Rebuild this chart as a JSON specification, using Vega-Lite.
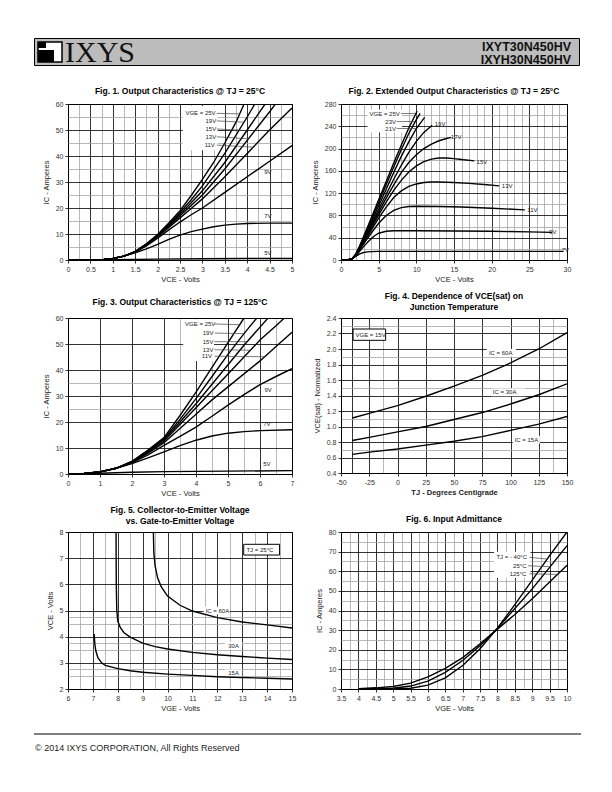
{
"$schema": "https://vega.github.io/schema/vega-lite/v6.json",
"padding": {"left": 33, "top": 37, "right": 0, "bottom": 0},
"autosize": {"type": "pad"},
"background": "white",
"config": {
 "view": {"stroke": "#000", "strokeWidth": 1},
 "axis": {"domain": false, "labelFont": "Liberation Sans", "labelFontSize": 7, "labelColor": "#333", "titleFont": "Liberation Sans", "titleFontSize": 7.5, "titleFontWeight": "normal", "titleColor": "#222", "tickColor": "#333", "labelPadding": 2, "gridWidth": 0.8, "gridOpacity": 1, "labelFlush": false, "labelOverlap": false, "labelBound": false},
 "axisX": {"titlePadding": 3},
 "axisY": {"titlePadding": 5},
 "title": {"font": "Liberation Sans", "fontSize": 8.5, "fontWeight": "bold", "color": "#000", "anchor": "middle"},
 "line": {"color": "#000", "strokeWidth": 1.4},
 "text": {"font": "Liberation Sans", "fontSize": 6, "color": "#222", "align": "left", "baseline": "middle"}
},
"datasets": {
 "f1": [
  {"v":"5V","x":0,"y":0},{"v":"5V","x":1,"y":0.1},{"v":"5V","x":2,"y":0.35},{"v":"5V","x":3,"y":0.5},{"v":"5V","x":4,"y":0.55},{"v":"5V","x":5,"y":0.6},
  {"v":"7V","x":0,"y":0},{"v":"7V","x":0.5,"y":0},{"v":"7V","x":0.8,"y":0.2},{"v":"7V","x":1,"y":0.6},{"v":"7V","x":1.25,"y":1.5},{"v":"7V","x":1.5,"y":2.8},{"v":"7V","x":1.75,"y":4.3},{"v":"7V","x":2,"y":6},{"v":"7V","x":2.25,"y":7.9},{"v":"7V","x":2.5,"y":9.6},{"v":"7V","x":2.75,"y":10.9},{"v":"7V","x":3,"y":11.9},{"v":"7V","x":3.25,"y":12.8},{"v":"7V","x":3.5,"y":13.4},{"v":"7V","x":3.75,"y":13.8},{"v":"7V","x":4,"y":14.05},{"v":"7V","x":4.5,"y":14.2},{"v":"7V","x":5,"y":14.2},
  {"v":"9V","x":0,"y":0},{"v":"9V","x":0.5,"y":0},{"v":"9V","x":0.8,"y":0.2},{"v":"9V","x":1,"y":0.6},{"v":"9V","x":1.25,"y":1.5},{"v":"9V","x":1.5,"y":3},{"v":"9V","x":1.75,"y":5.4},{"v":"9V","x":2,"y":8.4},{"v":"9V","x":2.25,"y":11.6},{"v":"9V","x":2.5,"y":14.6},{"v":"9V","x":2.75,"y":17.4},{"v":"9V","x":3,"y":20},{"v":"9V","x":3.5,"y":26},{"v":"9V","x":4,"y":32},{"v":"9V","x":4.5,"y":38},{"v":"9V","x":5,"y":44},
  {"v":"11V","x":0,"y":0},{"v":"11V","x":0.5,"y":0},{"v":"11V","x":0.8,"y":0.2},{"v":"11V","x":1,"y":0.6},{"v":"11V","x":1.25,"y":1.5},{"v":"11V","x":1.5,"y":3.1},{"v":"11V","x":1.75,"y":5.8},{"v":"11V","x":2,"y":9},{"v":"11V","x":2.25,"y":12.5},{"v":"11V","x":2.5,"y":16.2},{"v":"11V","x":2.75,"y":19.8},{"v":"11V","x":3,"y":23.5},{"v":"11V","x":3.5,"y":32},{"v":"11V","x":4,"y":41},{"v":"11V","x":4.5,"y":50},{"v":"11V","x":5,"y":58.5},
  {"v":"13V","x":0,"y":0},{"v":"13V","x":0.5,"y":0},{"v":"13V","x":0.8,"y":0.2},{"v":"13V","x":1,"y":0.6},{"v":"13V","x":1.25,"y":1.5},{"v":"13V","x":1.5,"y":3.1},{"v":"13V","x":1.75,"y":5.9},{"v":"13V","x":2,"y":9.2},{"v":"13V","x":2.25,"y":13},{"v":"13V","x":2.5,"y":17},{"v":"13V","x":2.75,"y":21},{"v":"13V","x":3,"y":25},{"v":"13V","x":3.5,"y":35},{"v":"13V","x":4,"y":46},{"v":"13V","x":4.5,"y":57},{"v":"13V","x":4.63,"y":60},
  {"v":"15V","x":0,"y":0},{"v":"15V","x":0.5,"y":0},{"v":"15V","x":0.8,"y":0.2},{"v":"15V","x":1,"y":0.6},{"v":"15V","x":1.25,"y":1.5},{"v":"15V","x":1.5,"y":3.2},{"v":"15V","x":1.75,"y":6},{"v":"15V","x":2,"y":9.4},{"v":"15V","x":2.25,"y":13.4},{"v":"15V","x":2.5,"y":17.6},{"v":"15V","x":2.75,"y":22},{"v":"15V","x":3,"y":26.6},{"v":"15V","x":3.5,"y":37.5},{"v":"15V","x":4,"y":50},{"v":"15V","x":4.4,"y":60},
  {"v":"19V","x":0,"y":0},{"v":"19V","x":0.5,"y":0},{"v":"19V","x":0.8,"y":0.2},{"v":"19V","x":1,"y":0.6},{"v":"19V","x":1.25,"y":1.5},{"v":"19V","x":1.5,"y":3.2},{"v":"19V","x":1.75,"y":6.1},{"v":"19V","x":2,"y":9.6},{"v":"19V","x":2.25,"y":13.8},{"v":"19V","x":2.5,"y":18.3},{"v":"19V","x":2.75,"y":23.2},{"v":"19V","x":3,"y":28.5},{"v":"19V","x":3.5,"y":41},{"v":"19V","x":4,"y":55},{"v":"19V","x":4.17,"y":60},
  {"v":"25V","x":0,"y":0},{"v":"25V","x":0.5,"y":0},{"v":"25V","x":0.8,"y":0.2},{"v":"25V","x":1,"y":0.6},{"v":"25V","x":1.25,"y":1.5},{"v":"25V","x":1.5,"y":3.3},{"v":"25V","x":1.75,"y":6.2},{"v":"25V","x":2,"y":9.8},{"v":"25V","x":2.25,"y":14.2},{"v":"25V","x":2.5,"y":19},{"v":"25V","x":2.75,"y":24.8},{"v":"25V","x":3,"y":31},{"v":"25V","x":3.25,"y":37.5},{"v":"25V","x":3.5,"y":45},{"v":"25V","x":3.75,"y":53},{"v":"25V","x":3.93,"y":60}
 ],
 "f1b": [{"x":2.56,"x2":3.34,"y":42.2,"y2":59.2}],
 "f1l": [{"x":3.32,"y":56.4,"x2":3.83,"y2":56.2},{"x":3.32,"y":53.5,"x2":3.93,"y2":53},{"x":3.32,"y":50.4,"x2":3.99,"y2":49.8},{"x":3.32,"y":47.4,"x2":4.03,"y2":46.6},{"x":3.32,"y":44.2,"x2":4.13,"y2":43.4}],
 "f1t": [{"x":2.62,"y":56.4,"t":"VGE = 25V"},{"x":3.07,"y":53.5,"t":"19V"},{"x":3.07,"y":50.4,"t":"15V"},{"x":3.07,"y":47.4,"t":"13V"},{"x":3.05,"y":44.2,"t":"11V"},{"x":4.38,"y":33.7,"t":"9V"},{"x":4.38,"y":16.9,"t":"7V"},{"x":4.38,"y":2.8,"t":"5V"}],
 "f2": [
  {"v":"7V","x":0,"y":0},{"v":"7V","x":1,"y":0.5},{"v":"7V","x":1.5,"y":2.5},{"v":"7V","x":2,"y":7},{"v":"7V","x":2.5,"y":11},{"v":"7V","x":3,"y":13.5},{"v":"7V","x":3.5,"y":14.6},{"v":"7V","x":4,"y":15},{"v":"7V","x":5,"y":15.5},{"v":"7V","x":29.5,"y":15.5},
  {"v":"9V","x":0,"y":0},{"v":"9V","x":1,"y":0.5},{"v":"9V","x":1.5,"y":2.5},{"v":"9V","x":2,"y":8},{"v":"9V","x":2.5,"y":16},{"v":"9V","x":3,"y":24},{"v":"9V","x":3.5,"y":31.5},{"v":"9V","x":4,"y":38},{"v":"9V","x":4.5,"y":44},{"v":"9V","x":5,"y":48},{"v":"9V","x":6,"y":51.5},{"v":"9V","x":7,"y":52.5},{"v":"9V","x":10,"y":52.5},{"v":"9V","x":15,"y":52},{"v":"9V","x":20,"y":51.5},{"v":"9V","x":25,"y":50.5},{"v":"9V","x":28,"y":49.5},
  {"v":"11V","x":0,"y":0},{"v":"11V","x":1,"y":0.5},{"v":"11V","x":1.5,"y":2.5},{"v":"11V","x":2,"y":9},{"v":"11V","x":2.5,"y":19},{"v":"11V","x":3,"y":29},{"v":"11V","x":4,"y":48},{"v":"11V","x":5,"y":66},{"v":"11V","x":6,"y":80},{"v":"11V","x":7,"y":89},{"v":"11V","x":8,"y":94},{"v":"11V","x":9,"y":96},{"v":"11V","x":10,"y":96.5},{"v":"11V","x":13,"y":96},{"v":"11V","x":16,"y":95},{"v":"11V","x":20,"y":93},{"v":"11V","x":24.4,"y":90},
  {"v":"13V","x":0,"y":0},{"v":"13V","x":1,"y":0.5},{"v":"13V","x":1.5,"y":2.5},{"v":"13V","x":2,"y":9.5},{"v":"13V","x":2.5,"y":20},{"v":"13V","x":3,"y":31},{"v":"13V","x":4,"y":53},{"v":"13V","x":5,"y":75},{"v":"13V","x":6,"y":95},{"v":"13V","x":7,"y":112},{"v":"13V","x":8,"y":124},{"v":"13V","x":9,"y":132},{"v":"13V","x":10,"y":136.5},{"v":"13V","x":11,"y":139},{"v":"13V","x":12,"y":140},{"v":"13V","x":13,"y":140},{"v":"13V","x":15,"y":139},{"v":"13V","x":17,"y":137.5},{"v":"13V","x":19,"y":135.5},{"v":"13V","x":21,"y":133},
  {"v":"15V","x":0,"y":0},{"v":"15V","x":1,"y":0.5},{"v":"15V","x":1.5,"y":2.5},{"v":"15V","x":2,"y":10},{"v":"15V","x":2.5,"y":21},{"v":"15V","x":3,"y":33},{"v":"15V","x":4,"y":57},{"v":"15V","x":5,"y":81},{"v":"15V","x":6,"y":104},{"v":"15V","x":7,"y":125},{"v":"15V","x":8,"y":143},{"v":"15V","x":9,"y":158},{"v":"15V","x":10,"y":169},{"v":"15V","x":11,"y":176.5},{"v":"15V","x":12,"y":181},{"v":"15V","x":13,"y":183},{"v":"15V","x":14,"y":183},{"v":"15V","x":15,"y":182},{"v":"15V","x":16,"y":180.5},{"v":"15V","x":17.7,"y":178},
  {"v":"17V","x":0,"y":0},{"v":"17V","x":1,"y":0.5},{"v":"17V","x":1.5,"y":2.5},{"v":"17V","x":2,"y":10},{"v":"17V","x":2.5,"y":22},{"v":"17V","x":3,"y":34},{"v":"17V","x":4,"y":60},{"v":"17V","x":5,"y":86},{"v":"17V","x":6,"y":111},{"v":"17V","x":7,"y":135},{"v":"17V","x":8,"y":157},{"v":"17V","x":9,"y":175},{"v":"17V","x":10,"y":189},{"v":"17V","x":11,"y":200},{"v":"17V","x":12,"y":208},{"v":"17V","x":13,"y":214},{"v":"17V","x":14,"y":218},{"v":"17V","x":14.6,"y":220},
  {"v":"19V","x":0,"y":0},{"v":"19V","x":1,"y":0.5},{"v":"19V","x":1.5,"y":2.5},{"v":"19V","x":2,"y":10.5},{"v":"19V","x":2.5,"y":23},{"v":"19V","x":3,"y":36},{"v":"19V","x":4,"y":63},{"v":"19V","x":5,"y":91},{"v":"19V","x":6,"y":118},{"v":"19V","x":7,"y":145},{"v":"19V","x":8,"y":170},{"v":"19V","x":9,"y":193},{"v":"19V","x":10,"y":213},{"v":"19V","x":11,"y":229},{"v":"19V","x":12.1,"y":242},
  {"v":"21V","x":0,"y":0},{"v":"21V","x":1,"y":0.5},{"v":"21V","x":1.5,"y":2.5},{"v":"21V","x":2,"y":11},{"v":"21V","x":2.5,"y":24},{"v":"21V","x":3,"y":38},{"v":"21V","x":4,"y":67},{"v":"21V","x":5,"y":97},{"v":"21V","x":6,"y":127},{"v":"21V","x":7,"y":157},{"v":"21V","x":8,"y":186},{"v":"21V","x":9,"y":212},{"v":"21V","x":10,"y":236},{"v":"21V","x":11.1,"y":256},
  {"v":"23V","x":0,"y":0},{"v":"23V","x":1,"y":0.5},{"v":"23V","x":1.5,"y":2.5},{"v":"23V","x":2,"y":11},{"v":"23V","x":2.5,"y":25},{"v":"23V","x":3,"y":40},{"v":"23V","x":4,"y":71},{"v":"23V","x":5,"y":103},{"v":"23V","x":6,"y":135},{"v":"23V","x":7,"y":167},{"v":"23V","x":8,"y":198},{"v":"23V","x":9,"y":227},{"v":"23V","x":10,"y":252},{"v":"23V","x":10.5,"y":263},
  {"v":"25V","x":0,"y":0},{"v":"25V","x":1,"y":0.5},{"v":"25V","x":1.5,"y":2.5},{"v":"25V","x":2,"y":11.5},{"v":"25V","x":2.5,"y":26},{"v":"25V","x":3,"y":42},{"v":"25V","x":4,"y":75},{"v":"25V","x":5,"y":108},{"v":"25V","x":6,"y":141},{"v":"25V","x":7,"y":174},{"v":"25V","x":8,"y":206},{"v":"25V","x":9,"y":237},{"v":"25V","x":10.1,"y":267}
 ],
 "f2b": [{"x":3.5,"x2":8.1,"y":229,"y2":270}],
 "f2l": [{"x":8.0,"y":263,"x2":9.95,"y2":263},{"x":7.4,"y":248.5,"x2":9.86,"y2":248.5},{"x":7.4,"y":236,"x2":10.0,"y2":236}],
 "f2t": [{"x":3.79,"y":262.7,"t":"VGE = 25V"},{"x":5.88,"y":248.3,"t":"23V"},{"x":5.88,"y":235.8,"t":"21V"},{"x":12.44,"y":244.2,"t":"19V"},{"x":14.58,"y":220.2,"t":"17V"},{"x":18.0,"y":175.3,"t":"15V"},{"x":21.35,"y":132.9,"t":"13V"},{"x":24.74,"y":89.2,"t":"11V"},{"x":27.64,"y":50.9,"t":"9V"},{"x":29.3,"y":18.6,"t":"7V"}],
 "f3": [
  {"v":"5V","x":0,"y":0},{"v":"5V","x":1,"y":0.3},{"v":"5V","x":2,"y":0.7},{"v":"5V","x":3,"y":0.9},{"v":"5V","x":5,"y":1.1},{"v":"5V","x":7,"y":1.3},
  {"v":"7V","x":0,"y":0},{"v":"7V","x":0.5,"y":0.2},{"v":"7V","x":1,"y":0.8},{"v":"7V","x":1.5,"y":2.2},{"v":"7V","x":2,"y":4},{"v":"7V","x":2.5,"y":6.2},{"v":"7V","x":3,"y":8.5},{"v":"7V","x":3.5,"y":10.9},{"v":"7V","x":4,"y":13},{"v":"7V","x":4.5,"y":14.6},{"v":"7V","x":5,"y":15.7},{"v":"7V","x":5.5,"y":16.3},{"v":"7V","x":6,"y":16.7},{"v":"7V","x":7,"y":17},
  {"v":"9V","x":0,"y":0},{"v":"9V","x":0.5,"y":0.2},{"v":"9V","x":1,"y":0.8},{"v":"9V","x":1.5,"y":2.2},{"v":"9V","x":2,"y":4.3},{"v":"9V","x":2.5,"y":7.4},{"v":"9V","x":3,"y":11},{"v":"9V","x":3.5,"y":14.5},{"v":"9V","x":4,"y":18},{"v":"9V","x":4.5,"y":22.2},{"v":"9V","x":5,"y":26.5},{"v":"9V","x":5.5,"y":30.5},{"v":"9V","x":6,"y":34.4},{"v":"9V","x":6.5,"y":37.5},{"v":"9V","x":7,"y":40.5},
  {"v":"11V","x":0,"y":0},{"v":"11V","x":0.5,"y":0.2},{"v":"11V","x":1,"y":0.8},{"v":"11V","x":1.5,"y":2.2},{"v":"11V","x":2,"y":4.5},{"v":"11V","x":2.5,"y":8},{"v":"11V","x":3,"y":12},{"v":"11V","x":3.5,"y":17.5},{"v":"11V","x":4,"y":23},{"v":"11V","x":4.5,"y":28.5},{"v":"11V","x":5,"y":33.5},{"v":"11V","x":5.5,"y":38.5},{"v":"11V","x":6,"y":43.5},{"v":"11V","x":6.5,"y":49},{"v":"11V","x":7,"y":54.5},
  {"v":"13V","x":0,"y":0},{"v":"13V","x":0.5,"y":0.2},{"v":"13V","x":1,"y":0.8},{"v":"13V","x":1.5,"y":2.2},{"v":"13V","x":2,"y":4.6},{"v":"13V","x":2.5,"y":8.4},{"v":"13V","x":3,"y":12.6},{"v":"13V","x":3.5,"y":19},{"v":"13V","x":4,"y":25.5},{"v":"13V","x":4.5,"y":32},{"v":"13V","x":5,"y":38.5},{"v":"13V","x":5.5,"y":45},{"v":"13V","x":6,"y":51.5},{"v":"13V","x":6.5,"y":57},{"v":"13V","x":6.76,"y":60},
  {"v":"15V","x":0,"y":0},{"v":"15V","x":0.5,"y":0.2},{"v":"15V","x":1,"y":0.8},{"v":"15V","x":1.5,"y":2.2},{"v":"15V","x":2,"y":4.7},{"v":"15V","x":2.5,"y":8.7},{"v":"15V","x":3,"y":13.2},{"v":"15V","x":3.5,"y":20},{"v":"15V","x":4,"y":27},{"v":"15V","x":4.5,"y":34.5},{"v":"15V","x":5,"y":42},{"v":"15V","x":5.5,"y":49.5},{"v":"15V","x":6,"y":56.5},{"v":"15V","x":6.25,"y":60},
  {"v":"19V","x":0,"y":0},{"v":"19V","x":0.5,"y":0.2},{"v":"19V","x":1,"y":0.8},{"v":"19V","x":1.5,"y":2.2},{"v":"19V","x":2,"y":4.8},{"v":"19V","x":2.5,"y":9},{"v":"19V","x":3,"y":13.6},{"v":"19V","x":3.5,"y":21},{"v":"19V","x":4,"y":29},{"v":"19V","x":4.5,"y":37.5},{"v":"19V","x":5,"y":46},{"v":"19V","x":5.5,"y":54},{"v":"19V","x":5.9,"y":60},
  {"v":"25V","x":0,"y":0},{"v":"25V","x":0.5,"y":0.2},{"v":"25V","x":1,"y":0.8},{"v":"25V","x":1.5,"y":2.2},{"v":"25V","x":2,"y":4.9},{"v":"25V","x":2.5,"y":9.2},{"v":"25V","x":3,"y":14},{"v":"25V","x":3.5,"y":22.5},{"v":"25V","x":4,"y":31.5},{"v":"25V","x":4.5,"y":41},{"v":"25V","x":5,"y":50.5},{"v":"25V","x":5.5,"y":60}
 ],
 "f3b": [{"x":3.6,"x2":4.56,"y":43.5,"y2":59.5}],
 "f3l": [{"x":4.58,"y":57.7,"x2":5.39,"y2":57.4},{"x":4.58,"y":54.2,"x2":5.5,"y2":54},{"x":4.58,"y":50.9,"x2":5.6,"y2":50.9},{"x":4.58,"y":47.8,"x2":5.72,"y2":47.6},{"x":4.58,"y":45.3,"x2":6.16,"y2":45.1}],
 "f3t": [{"x":3.66,"y":57.7,"t":"VGE = 25V"},{"x":4.21,"y":54.2,"t":"19V"},{"x":4.21,"y":50.9,"t":"15V"},{"x":4.21,"y":47.8,"t":"13V"},{"x":4.18,"y":45.3,"t":"11V"},{"x":6.14,"y":32.3,"t":"9V"},{"x":6.1,"y":19.2,"t":"7V"},{"x":6.1,"y":3.8,"t":"5V"}],
 "f4": [
  {"v":"60A","x":-40,"y":1.11},{"v":"60A","x":-25,"y":1.17},{"v":"60A","x":0,"y":1.27},{"v":"60A","x":25,"y":1.39},{"v":"60A","x":50,"y":1.52},{"v":"60A","x":75,"y":1.66},{"v":"60A","x":100,"y":1.82},{"v":"60A","x":125,"y":2.0},{"v":"60A","x":150,"y":2.21},
  {"v":"30A","x":-40,"y":0.82},{"v":"30A","x":-25,"y":0.86},{"v":"30A","x":0,"y":0.93},{"v":"30A","x":25,"y":1.0},{"v":"30A","x":50,"y":1.09},{"v":"30A","x":75,"y":1.18},{"v":"30A","x":100,"y":1.29},{"v":"30A","x":125,"y":1.41},{"v":"30A","x":150,"y":1.55},
  {"v":"15A","x":-40,"y":0.64},{"v":"15A","x":-25,"y":0.67},{"v":"15A","x":0,"y":0.71},{"v":"15A","x":25,"y":0.76},{"v":"15A","x":50,"y":0.81},{"v":"15A","x":75,"y":0.87},{"v":"15A","x":100,"y":0.95},{"v":"15A","x":125,"y":1.03},{"v":"15A","x":150,"y":1.13}
 ],
 "f4b": [{"x":79,"x2":105,"y":1.9,"y2":2.0},{"x":83,"x2":113,"y":1.39,"y2":1.49},{"x":102,"x2":126,"y":0.78,"y2":0.88}],
 "f4x": [{"x":-39.3,"x2":-10.5,"y":2.112,"y2":2.258}],
 "f4t": [{"x":80.9,"y":1.95,"t":"IC = 60A"},{"x":84.4,"y":1.44,"t":"IC = 30A"},{"x":103.7,"y":0.83,"t":"IC = 15A"},{"x":-37.2,"y":2.185,"t":"VGE = 15V"}],
 "f5": [
  {"v":"15A","x":7.05,"y":4.1},{"v":"15A","x":7.08,"y":3.7},{"v":"15A","x":7.12,"y":3.45},{"v":"15A","x":7.2,"y":3.2},{"v":"15A","x":7.35,"y":3.0},{"v":"15A","x":7.5,"y":2.9},{"v":"15A","x":8,"y":2.78},{"v":"15A","x":8.5,"y":2.7},{"v":"15A","x":9,"y":2.64},{"v":"15A","x":10,"y":2.57},{"v":"15A","x":11,"y":2.52},{"v":"15A","x":12,"y":2.47},{"v":"15A","x":13,"y":2.44},{"v":"15A","x":14,"y":2.41},{"v":"15A","x":15,"y":2.38},
  {"v":"30A","x":7.93,"y":8},{"v":"30A","x":7.94,"y":6},{"v":"30A","x":7.96,"y":5},{"v":"30A","x":8,"y":4.6},{"v":"30A","x":8.1,"y":4.35},{"v":"30A","x":8.25,"y":4.15},{"v":"30A","x":8.5,"y":3.98},{"v":"30A","x":9,"y":3.75},{"v":"30A","x":9.5,"y":3.62},{"v":"30A","x":10,"y":3.53},{"v":"30A","x":11,"y":3.4},{"v":"30A","x":12,"y":3.31},{"v":"30A","x":13,"y":3.24},{"v":"30A","x":14,"y":3.18},{"v":"30A","x":15,"y":3.13},
  {"v":"60A","x":9.43,"y":8},{"v":"60A","x":9.45,"y":7.2},{"v":"60A","x":9.5,"y":6.7},{"v":"60A","x":9.6,"y":6.25},{"v":"60A","x":9.75,"y":5.9},{"v":"60A","x":10,"y":5.55},{"v":"60A","x":10.5,"y":5.2},{"v":"60A","x":11,"y":4.98},{"v":"60A","x":12,"y":4.73},{"v":"60A","x":13,"y":4.56},{"v":"60A","x":14,"y":4.45},{"v":"60A","x":15,"y":4.33}
 ],
 "f5b": [{"x":11.45,"x2":12.5,"y":4.85,"y2":5.15},{"x":12.3,"x2":13.0,"y":3.52,"y2":3.8},{"x":12.3,"x2":13.0,"y":2.47,"y2":2.75}],
 "f5x": [{"x":13.06,"x2":14.5,"y":7.12,"y2":7.53}],
 "f5t": [{"x":11.53,"y":5.0,"t":"IC = 60A"},{"x":12.44,"y":3.66,"t":"30A"},{"x":12.44,"y":2.61,"t":"15A"},{"x":13.17,"y":7.33,"t":"TJ = 25°C"}],
 "f6": [
  {"v":"-40","x":4,"y":0},{"v":"-40","x":5,"y":0.05},{"v":"-40","x":5.5,"y":0.4},{"v":"-40","x":6,"y":2},{"v":"-40","x":6.5,"y":5.7},{"v":"-40","x":7,"y":12},{"v":"-40","x":7.5,"y":20.5},{"v":"-40","x":8,"y":31},{"v":"-40","x":8.5,"y":43},{"v":"-40","x":9,"y":55.5},{"v":"-40","x":9.5,"y":68},{"v":"-40","x":10,"y":80},
  {"v":"25","x":4,"y":0},{"v":"25","x":4.5,"y":0.05},{"v":"25","x":5,"y":0.4},{"v":"25","x":5.5,"y":1.5},{"v":"25","x":6,"y":4},{"v":"25","x":6.5,"y":8.5},{"v":"25","x":7,"y":14.5},{"v":"25","x":7.5,"y":22},{"v":"25","x":8,"y":31},{"v":"25","x":8.5,"y":41},{"v":"25","x":9,"y":51},{"v":"25","x":9.5,"y":62},{"v":"25","x":10,"y":73},
  {"v":"125","x":4,"y":0.1},{"v":"125","x":4.5,"y":0.6},{"v":"125","x":5,"y":1.3},{"v":"125","x":5.5,"y":3},{"v":"125","x":6,"y":6.2},{"v":"125","x":6.5,"y":10.5},{"v":"125","x":7,"y":16},{"v":"125","x":7.5,"y":23},{"v":"125","x":8,"y":30.5},{"v":"125","x":8.5,"y":38},{"v":"125","x":9,"y":46},{"v":"125","x":9.5,"y":54.5},{"v":"125","x":10,"y":63}
 ],
 "f6b": [{"x":7.9,"x2":8.95,"y":56.5,"y2":70}],
 "f6l": [{"x":8.92,"y":67.1,"x2":9.43,"y2":66.2},{"x":8.88,"y":62.8,"x2":9.51,"y2":62.3},{"x":8.92,"y":58.7,"x2":9.73,"y2":58.4}],
 "f6t": [{"x":7.97,"y":67.1,"t":"TJ = - 40°C"},{"x":8.45,"y":62.8,"t":"25°C"},{"x":8.35,"y":58.7,"t":"125°C"}],
 "hbox": [{"x":4,"x2":28,"y":4,"y2":24}],
 "hblk": [{"x":4,"x2":12,"y":4,"y2":10},{"x":4,"x2":20,"y":12,"y2":24}],
 "hlogo": [{"x":31,"y":24,"t":"IXYS"}],
 "hpart": [{"x":537,"y":8.5,"t":"IXYT30N450HV"},{"x":537,"y":22,"t":"IXYH30N450HV"}],
 "frule": [{"x":0,"x2":547,"y":0}],
 "ftext": [{"x":1,"y":14,"t":"© 2014 IXYS CORPORATION,  All Rights Reserved"}]
},
"spacing": 21,
"vconcat": [
 {
  "spacing": 17,
  "vconcat": [
   {
    "width": 545, "height": 27,
    "view": {"fill": "#bcbcbc", "stroke": "#000"},
    "encoding": {
     "x": {"field": "x", "type": "quantitative", "scale": {"domain": [0, 545], "nice": false, "zero": false}, "axis": null},
     "y": {"field": "y", "type": "quantitative", "scale": {"domain": [0, 27], "nice": false, "zero": false, "reverse": true}, "axis": null}
    },
    "layer": [
     {"data": {"name": "hbox"}, "mark": {"type": "rect", "fill": "#fff", "stroke": "#000", "strokeWidth": 1.5}, "encoding": {"x2": {"field": "x2"}, "y2": {"field": "y2"}}},
     {"data": {"name": "hblk"}, "mark": {"type": "rect", "fill": "#000"}, "encoding": {"x2": {"field": "x2"}, "y2": {"field": "y2"}}},
     {"data": {"name": "hlogo"}, "mark": {"type": "text", "font": "Liberation Serif", "fontSize": 30, "baseline": "alphabetic", "align": "left", "color": "#111"}, "encoding": {"text": {"field": "t", "type": "nominal"}}},
     {"data": {"name": "hpart"}, "mark": {"type": "text", "font": "Liberation Sans", "fontSize": 12.5, "fontWeight": "bold", "baseline": "middle", "align": "right", "color": "#111"}, "encoding": {"text": {"field": "t", "type": "nominal"}}}
    ]
   },
   {
    "spacing": 6,
    "hconcat": [
     {"width": 1, "height": 1, "view": {"stroke": null, "fill": "#fff"}, "data": {"values": [{"a": ""}]}, "mark": {"type": "text"}, "encoding": {"text": {"field": "a", "type": "nominal"}}},
     {
      "bounds": "flush",
      "columns": 2,
      "spacing": {"row": 58, "column": 49},
      "concat": [
       {
        "width": 224, "height": 156,
        "title": {"text": "Fig. 1. Output Characteristics @ TJ = 25°C", "offset": 5},
        "encoding": {
         "x": {"field": "x", "type": "quantitative", "scale": {"domain": [0, 5], "nice": false, "zero": false},
          "axis": {"title": "VCE - Volts", "values": [0,0.25,0.5,0.75,1,1.25,1.5,1.75,2,2.25,2.5,2.75,3,3.25,3.5,3.75,4,4.25,4.5,4.75,5],
           "labelExpr": "datum.value % 0.5 === 0 ? '' + datum.value : ''",
           "gridColor": {"condition": {"test": "datum.value % 0.5 === 0", "value": "#000"}, "value": "#a6a6a6"},
           "tickSize": {"condition": {"test": "datum.value % 0.5 === 0", "value": 3}, "value": 0}}},
         "y": {"field": "y", "type": "quantitative", "scale": {"domain": [0, 60], "nice": false, "zero": false},
          "axis": {"title": "IC - Amperes", "values": [0,5,10,15,20,25,30,35,40,45,50,55,60],
           "labelExpr": "datum.value % 10 === 0 ? '' + datum.value : ''",
           "gridColor": {"condition": {"test": "datum.value % 10 === 0", "value": "#000"}, "value": "#a6a6a6"},
           "tickSize": {"condition": {"test": "datum.value % 10 === 0", "value": 3}, "value": 0}}}
        },
        "layer": [
         {"data": {"name": "f1b"}, "mark": {"type": "rect", "fill": "#fff"}, "encoding": {"x2": {"field": "x2"}, "y2": {"field": "y2"}}},
         {"data": {"name": "f1"}, "mark": {"type": "line", "clip": true}, "encoding": {"detail": {"field": "v", "type": "nominal"}}},
         {"data": {"name": "f1l"}, "mark": {"type": "rule", "color": "#444", "strokeWidth": 0.7}, "encoding": {"x2": {"field": "x2"}, "y2": {"field": "y2"}}},
         {"data": {"name": "f1t"}, "mark": {"type": "text"}, "encoding": {"text": {"field": "t", "type": "nominal"}}}
        ]
       },
       {
        "width": 226, "height": 156,
        "title": {"text": "Fig. 2. Extended Output Characteristics @ TJ = 25°C", "offset": 5},
        "encoding": {
         "x": {"field": "x", "type": "quantitative", "scale": {"domain": [0, 30], "nice": false, "zero": false},
          "axis": {"title": "VCE - Volts", "values": [0,1,2,3,4,5,6,7,8,9,10,11,12,13,14,15,16,17,18,19,20,21,22,23,24,25,26,27,28,29,30],
           "labelExpr": "datum.value % 5 === 0 ? '' + datum.value : ''",
           "gridColor": {"condition": {"test": "datum.value % 5 === 0", "value": "#000"}, "value": "#a6a6a6"},
           "tickSize": {"condition": {"test": "datum.value % 5 === 0", "value": 3}, "value": 0}}},
         "y": {"field": "y", "type": "quantitative", "scale": {"domain": [0, 280], "nice": false, "zero": false},
          "axis": {"title": "IC - Amperes", "values": [0,20,40,60,80,100,120,140,160,180,200,220,240,260,280],
           "labelExpr": "datum.value % 40 === 0 ? '' + datum.value : ''",
           "gridColor": {"condition": {"test": "datum.value % 40 === 0", "value": "#000"}, "value": "#a6a6a6"},
           "tickSize": {"condition": {"test": "datum.value % 40 === 0", "value": 3}, "value": 0}}}
        },
        "layer": [
         {"data": {"name": "f2b"}, "mark": {"type": "rect", "fill": "#fff"}, "encoding": {"x2": {"field": "x2"}, "y2": {"field": "y2"}}},
         {"data": {"name": "f2"}, "mark": {"type": "line", "clip": true}, "encoding": {"detail": {"field": "v", "type": "nominal"}}},
         {"data": {"name": "f2l"}, "mark": {"type": "rule", "color": "#444", "strokeWidth": 0.7}, "encoding": {"x2": {"field": "x2"}, "y2": {"field": "y2"}}},
         {"data": {"name": "f2t"}, "mark": {"type": "text"}, "encoding": {"text": {"field": "t", "type": "nominal"}}}
        ]
       },
       {
        "width": 224, "height": 156,
        "title": {"text": "Fig. 3. Output Characteristics @ TJ = 125°C", "offset": 8},
        "encoding": {
         "x": {"field": "x", "type": "quantitative", "scale": {"domain": [0, 7], "nice": false, "zero": false},
          "axis": {"title": "VCE - Volts", "values": [0,1,2,3,3.5,4,4.5,5,5.5,6,6.5,7],
           "labelExpr": "datum.value % 1 === 0 ? '' + datum.value : ''",
           "gridColor": {"condition": {"test": "datum.value % 1 === 0", "value": "#000"}, "value": "#a6a6a6"},
           "tickSize": {"condition": {"test": "datum.value % 1 === 0", "value": 3}, "value": 0}}},
         "y": {"field": "y", "type": "quantitative", "scale": {"domain": [0, 60], "nice": false, "zero": false},
          "axis": {"title": "IC - Amperes", "values": [0,10,20,25,30,35,40,50,60],
           "labelExpr": "datum.value % 10 === 0 ? '' + datum.value : ''",
           "gridColor": {"condition": {"test": "datum.value % 10 === 0", "value": "#000"}, "value": "#a6a6a6"},
           "tickSize": {"condition": {"test": "datum.value % 10 === 0", "value": 3}, "value": 0}}}
        },
        "layer": [
         {"data": {"name": "f3b"}, "mark": {"type": "rect", "fill": "#fff"}, "encoding": {"x2": {"field": "x2"}, "y2": {"field": "y2"}}},
         {"data": {"name": "f3"}, "mark": {"type": "line", "clip": true}, "encoding": {"detail": {"field": "v", "type": "nominal"}}},
         {"data": {"name": "f3l"}, "mark": {"type": "rule", "color": "#444", "strokeWidth": 0.7}, "encoding": {"x2": {"field": "x2"}, "y2": {"field": "y2"}}},
         {"data": {"name": "f3t"}, "mark": {"type": "text"}, "encoding": {"text": {"field": "t", "type": "nominal"}}}
        ]
       },
       {
        "width": 226, "height": 155,
        "title": {"text": ["Fig. 4. Dependence of VCE(sat) on", "Junction Temperature"], "offset": 3, "lineHeight": 11},
        "encoding": {
         "x": {"field": "x", "type": "quantitative", "scale": {"domain": [-50, 150], "nice": false, "zero": false},
          "axis": {"title": "TJ - Degrees Centigrade", "titleFontWeight": "bold", "values": [-50,-40,-25,-12.5,0,25,50,75,100,125,137.5,150],
           "labelExpr": "datum.value % 25 === 0 ? '' + datum.value : ''",
           "gridColor": {"condition": {"test": "datum.value % 25 === 0 || datum.value === -40", "value": "#000"}, "value": "#a6a6a6"},
           "tickSize": {"condition": {"test": "datum.value % 25 === 0", "value": 3}, "value": 0}}},
         "y": {"field": "y", "type": "quantitative", "scale": {"domain": [0.4, 2.4], "nice": false, "zero": false},
          "axis": {"title": "VCE(sat) - Normalized", "values": [0.4,0.6,0.7,0.8,1.0,1.1,1.2,1.4,1.5,1.6,1.8,1.9,2.0,2.2,2.3,2.4],
           "labelExpr": "indexof([0.7,1.1,1.5,1.9,2.3], datum.value) < 0 ? format(datum.value, '.1f') : ''",
           "gridColor": {"condition": {"test": "indexof([0.7,1.1,1.5,1.9,2.3], datum.value) < 0", "value": "#000"}, "value": "#a6a6a6"},
           "tickSize": {"condition": {"test": "indexof([0.7,1.1,1.5,1.9,2.3], datum.value) < 0", "value": 3}, "value": 0}}}
        },
        "layer": [
         {"data": {"name": "f4b"}, "mark": {"type": "rect", "fill": "#fff"}, "encoding": {"x2": {"field": "x2"}, "y2": {"field": "y2"}}},
         {"data": {"name": "f4x"}, "mark": {"type": "rect", "fill": "#fff", "stroke": "#000", "strokeWidth": 1}, "encoding": {"x2": {"field": "x2"}, "y2": {"field": "y2"}}},
         {"data": {"name": "f4"}, "mark": {"type": "line", "clip": true}, "encoding": {"detail": {"field": "v", "type": "nominal"}}},
         {"data": {"name": "f4t"}, "mark": {"type": "text"}, "encoding": {"text": {"field": "t", "type": "nominal"}}}
        ]
       },
       {
        "width": 224, "height": 157,
        "title": {"text": ["Fig. 5. Collector-to-Emitter Voltage", "vs. Gate-to-Emitter Voltage"], "offset": 3, "lineHeight": 11},
        "encoding": {
         "x": {"field": "x", "type": "quantitative", "scale": {"domain": [6, 15], "nice": false, "zero": false},
          "axis": {"title": "VGE - Volts", "values": [6,6.5,7,7.5,8,8.5,9,9.5,10,10.5,11,11.5,12,12.5,13,13.5,14,14.5,15],
           "labelExpr": "datum.value % 1 === 0 ? '' + datum.value : ''",
           "gridColor": {"condition": {"test": "datum.value % 1 === 0", "value": "#000"}, "value": "#a6a6a6"},
           "tickSize": {"condition": {"test": "datum.value % 1 === 0", "value": 3}, "value": 0}}},
         "y": {"field": "y", "type": "quantitative", "scale": {"domain": [2, 8], "nice": false, "zero": false},
          "axis": {"title": "VCE - Volts", "values": [2,2.5,2.75,3,3.5,3.75,4,4.5,4.75,5,6,7,8],
           "labelExpr": "datum.value % 1 === 0 ? '' + datum.value : ''",
           "gridColor": {"condition": {"test": "datum.value % 1 === 0", "value": "#000"}, "value": "#a6a6a6"},
           "tickSize": {"condition": {"test": "datum.value % 1 === 0", "value": 3}, "value": 0}}}
        },
        "layer": [
         {"data": {"name": "f5b"}, "mark": {"type": "rect", "fill": "#fff"}, "encoding": {"x2": {"field": "x2"}, "y2": {"field": "y2"}}},
         {"data": {"name": "f5x"}, "mark": {"type": "rect", "fill": "#fff", "stroke": "#000", "strokeWidth": 1}, "encoding": {"x2": {"field": "x2"}, "y2": {"field": "y2"}}},
         {"data": {"name": "f5"}, "mark": {"type": "line", "clip": true}, "encoding": {"detail": {"field": "v", "type": "nominal"}}},
         {"data": {"name": "f5t"}, "mark": {"type": "text"}, "encoding": {"text": {"field": "t", "type": "nominal"}}}
        ]
       },
       {
        "width": 226, "height": 157,
        "title": {"text": "Fig. 6. Input Admittance", "offset": 5},
        "encoding": {
         "x": {"field": "x", "type": "quantitative", "scale": {"domain": [3.5, 10], "nice": false, "zero": false},
          "axis": {"title": "VGE - Volts", "values": [3.5,3.75,4,4.25,4.5,4.75,5,5.25,5.5,5.75,6,6.25,6.5,6.75,7,7.25,7.5,7.75,8,8.25,8.5,8.75,9,9.25,9.5,9.75,10],
           "labelExpr": "datum.value % 0.5 === 0 ? '' + datum.value : ''",
           "gridColor": {"condition": {"test": "datum.value % 0.5 === 0", "value": "#000"}, "value": "#a6a6a6"},
           "tickSize": {"condition": {"test": "datum.value % 0.5 === 0", "value": 3}, "value": 0}}},
         "y": {"field": "y", "type": "quantitative", "scale": {"domain": [0, 80], "nice": false, "zero": false},
          "axis": {"title": "IC - Amperes", "values": [0,5,10,15,20,25,30,35,40,45,50,55,60,65,70,75,80],
           "labelExpr": "datum.value % 10 === 0 ? '' + datum.value : ''",
           "gridColor": {"condition": {"test": "datum.value % 10 === 0", "value": "#000"}, "value": "#a6a6a6"},
           "tickSize": {"condition": {"test": "datum.value % 10 === 0", "value": 3}, "value": 0}}}
        },
        "layer": [
         {"data": {"name": "f6b"}, "mark": {"type": "rect", "fill": "#fff"}, "encoding": {"x2": {"field": "x2"}, "y2": {"field": "y2"}}},
         {"data": {"name": "f6"}, "mark": {"type": "line", "clip": true}, "encoding": {"detail": {"field": "v", "type": "nominal"}}},
         {"data": {"name": "f6l"}, "mark": {"type": "rule", "color": "#444", "strokeWidth": 0.7}, "encoding": {"x2": {"field": "x2"}, "y2": {"field": "y2"}}},
         {"data": {"name": "f6t"}, "mark": {"type": "text"}, "encoding": {"text": {"field": "t", "type": "nominal"}}}
        ]
       }
      ]
     }
    ]
   }
  ]
 },
 {
  "width": 547, "height": 20,
  "view": {"stroke": null, "fill": "#fff"},
  "encoding": {
   "x": {"field": "x", "type": "quantitative", "scale": {"domain": [0, 547], "nice": false, "zero": false}, "axis": null},
   "y": {"field": "y", "type": "quantitative", "scale": {"domain": [0, 20], "nice": false, "zero": false, "reverse": true}, "axis": null}
  },
  "layer": [
   {"data": {"name": "frule"}, "mark": {"type": "rule", "color": "#000", "strokeWidth": 1}, "encoding": {"x2": {"field": "x2"}}},
   {"data": {"name": "ftext"}, "mark": {"type": "text", "font": "Liberation Sans", "fontSize": 9, "color": "#222", "align": "left", "baseline": "middle"}, "encoding": {"text": {"field": "t", "type": "nominal"}}}
  ]
 }
]
}
